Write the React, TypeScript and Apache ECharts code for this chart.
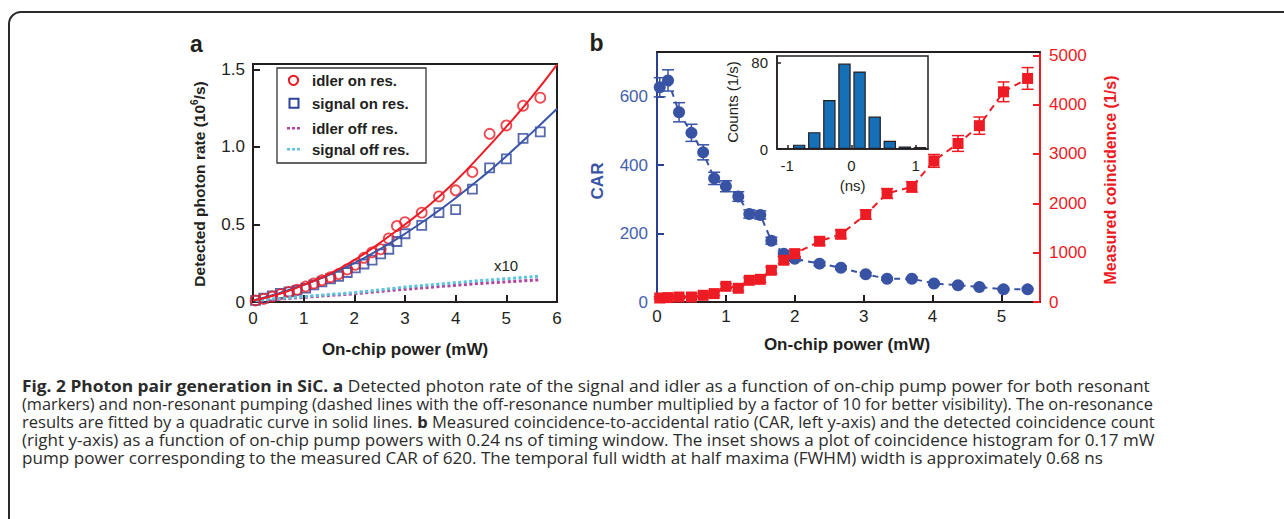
import React, { useEffect, useRef } from 'react';
import * as echarts from 'echarts';

// ---------- Panel a data ----------
const onResPower = [0.05, 0.21, 0.38, 0.54, 0.71, 0.87, 1.04, 1.2, 1.36, 1.53, 1.69, 1.86, 2.02, 2.19, 2.35, 2.52, 2.68, 2.84, 3.0, 3.33, 3.67, 4.0, 4.33, 4.67, 5.0, 5.33, 5.67];
const idlerOn = [0.01, 0.02, 0.035, 0.05, 0.065, 0.08, 0.1, 0.12, 0.14, 0.16, 0.18, 0.21, 0.24, 0.285, 0.32, 0.34, 0.41, 0.49, 0.515, 0.576, 0.681, 0.72, 0.838, 1.084, 1.138, 1.265, 1.317];
const signalOn = [0.01, 0.025, 0.04, 0.055, 0.065, 0.075, 0.09, 0.11, 0.13, 0.15, 0.165, 0.19, 0.22, 0.245, 0.27, 0.31, 0.34, 0.39, 0.44, 0.494, 0.576, 0.596, 0.727, 0.864, 0.922, 1.054, 1.097];
const fitPower = [0, 0.5, 1, 1.5, 2, 2.5, 3, 3.5, 4, 4.5, 5, 5.5, 6];
const idlerFit = [0.01, 0.05, 0.11, 0.18, 0.27, 0.38, 0.5, 0.63, 0.78, 0.95, 1.13, 1.32, 1.53];
const signalFit = [0.01, 0.055, 0.11, 0.175, 0.25, 0.34, 0.44, 0.55, 0.67, 0.8, 0.94, 1.09, 1.245];
const offPower = [0.05, 0.5, 1, 1.5, 2, 2.5, 3, 3.5, 4, 4.5, 5, 5.67];
const idlerOff = [0.008, 0.018, 0.03, 0.042, 0.053, 0.068, 0.082, 0.095, 0.108, 0.12, 0.13, 0.143];
const signalOff = [0.01, 0.022, 0.035, 0.048, 0.06, 0.078, 0.096, 0.11, 0.125, 0.138, 0.15, 0.167];
const legendNames = ['idler on res.', 'signal on res.', 'idler off res.', 'signal off res.'];
const aXTicks = [0, 1, 2, 3, 4, 5, 6];
const aYTicks = [0, 0.5, 1, 1.5];

// ---------- Panel b data ----------
const bPower = [0.04, 0.16, 0.32, 0.5, 0.67, 0.83, 1.0, 1.18, 1.34, 1.5, 1.66, 1.84, 2.0, 2.36, 2.67, 3.03, 3.34, 3.7, 4.02, 4.37, 4.68, 5.03, 5.38];
const car = [627, 647, 554, 494, 437, 361, 338, 308, 257, 254, 179, 141, 126, 112, 100, 81, 68, 68, 54, 49, 44, 37, 37];
const carErr = [28, 31, 28, 25, 22, 18, 16, 14, 12, 12, 10, 8, 7, 6, 5, 5, 4, 4, 4, 4, 3, 3, 3];
const coin = [81, 89, 101, 101, 136, 170, 318, 278, 440, 460, 643, 846, 980, 1231, 1373, 1773, 2199, 2333, 2860, 3213, 3574, 4260, 4531];
const coinErr = [25, 25, 30, 30, 35, 40, 50, 50, 55, 60, 65, 70, 75, 80, 85, 90, 100, 105, 130, 160, 175, 200, 220];
const bXTicks = [0, 1, 2, 3, 4, 5];
const carTicks = [0, 200, 400, 600];
const coinTicks = [0, 1000, 2000, 3000, 4000, 5000];

// ---------- Inset data ----------
const histTime = [-1.05, -0.815, -0.58, -0.345, -0.11, 0.125, 0.36, 0.595, 0.83, 1.065];
const histCounts = [0.8, 4, 15.6, 45.3, 79, 71.7, 30, 7.6, 2.4, 1.8];
const insetXTicks = [-1, 0, 1];
const insetYTicks = [0, 80];

// ---------- Caption ----------
const captionLines: { t: string; b?: boolean }[][] = [
  [{ t: 'Fig. 2 Photon pair generation in SiC. a', b: true }, { t: '\u00a0Detected photon rate of the signal and idler as a function of on-chip pump power for both resonant' }],
  [{ t: '(markers) and non-resonant pumping (dashed lines with the off-resonance number multiplied by a factor of 10 for better visibility). The on-resonance' }],
  [{ t: 'results are fitted by a quadratic curve in solid lines.\u00a0' }, { t: 'b', b: true }, { t: '\u00a0Measured coincidence-to-accidental ratio (CAR, left y-axis) and the detected coincidence count' }],
  [{ t: '(right y-axis) as a function of on-chip pump powers with 0.24 ns of timing window. The inset shows a plot of coincidence histogram for 0.17 mW' }],
  [{ t: 'pump power corresponding to the measured CAR of 620. The temporal full width at half maxima (FWHM) width is approximately 0.68 ns' }],
];

const RED = '#ed1c24';
const BLUE_A = '#2d449b';
const CAR_BLUE = '#3953a4';
const CAR_LABEL = '#4561ad';
const MAGENTA = '#b0479a';
const CYAN = '#5cc3dd';
const BAR = '#1670b8';
const INK = '#231f20';
const FONT = '"Liberation Sans", Arial, sans-serif';
const CAP_FONT = '"Open Sans", "Liberation Sans", sans-serif';

const zip = (xs: number[], ys: number[]) => xs.map((x, i) => [x, ys[i]]);

function valueAxis(o: any) {
  const color = o.color || INK;
  return {
    type: 'value',
    gridIndex: o.grid,
    position: o.position,
    min: o.min,
    max: o.max,
    axisLine: { show: true, onZero: false, lineStyle: { color, width: o.lw ?? 2 } },
    axisTick: o.ticks
      ? { show: true, inside: true, length: o.tickLen ?? 7, customValues: o.ticks, lineStyle: { color, width: o.lw ?? 2 } }
      : { show: false },
    axisLabel: o.ticks
      ? {
          show: true,
          customValues: o.ticks,
          color: o.labelColor || color,
          fontSize: o.fontSize ?? 17,
          fontFamily: FONT,
          margin: o.margin ?? 8,
          formatter: o.formatter || ((v: number) => String(v)),
        }
      : { show: false },
    splitLine: { show: false },
  };
}

function errorBars(xs: number[], ys: number[], errs: number[], color: string, yIdx: number) {
  return {
    type: 'custom',
    xAxisIndex: 1,
    yAxisIndex: yIdx,
    z: 1,
    data: xs.map((x, i) => [x, ys[i] - errs[i], ys[i] + errs[i]]),
    encode: { x: 0, y: [1, 2] },
    renderItem: (_p: any, api: any) => {
      const x = api.value(0);
      const p1 = api.coord([x, api.value(1)]);
      const p2 = api.coord([x, api.value(2)]);
      const hw = 6;
      const st = { stroke: color, lineWidth: 1.5 };
      return {
        type: 'group',
        children: [
          { type: 'line', shape: { x1: p1[0], y1: p1[1], x2: p2[0], y2: p2[1] }, style: st },
          { type: 'line', shape: { x1: p1[0] - hw, y1: p1[1], x2: p1[0] + hw, y2: p1[1] }, style: st },
          { type: 'line', shape: { x1: p2[0] - hw, y1: p2[1], x2: p2[0] + hw, y2: p2[1] }, style: st },
        ],
      };
    },
  };
}

function txt(x: number, y: number, text: string, o: any = {}) {
  return {
    type: 'text',
    x,
    y,
    rotation: o.rotation || 0,
    z: 100,
    style: {
      text,
      fill: o.color || INK,
      fontSize: o.size || 15,
      fontWeight: o.bold ? 'bold' : 'normal',
      fontFamily: o.family || FONT,
      align: o.align || 'center',
      verticalAlign: 'middle',
      textAlign: o.align || 'center',
      textVerticalAlign: 'middle',
      rich: o.rich,
    },
  };
}

export default function App() {
  const ref = useRef<HTMLDivElement>(null);
  useEffect(() => {
    if (!ref.current) return;
    const chart = echarts.init(ref.current, null, { renderer: 'svg' });

    // caption lines, stretched to the justified width of the reference
    const CAP_SIZE = 15.5;
    const capTargets = [1128, 1132, 1133, 1133, 1082];
    const capY = [385.5, 403.8, 422.2, 440.5, 458.8];
    const ctx = document.createElement('canvas').getContext('2d') as CanvasRenderingContext2D;
    const caption = captionLines.map((segs, i) => {
      let w = 0;
      segs.forEach((s) => {
        ctx.font = `${s.b ? 'bold ' : ''}${CAP_SIZE}px ${CAP_FONT}`;
        w += ctx.measureText(s.t).width;
      });
      const text = segs.map((s) => `{${s.b ? 'b' : 'n'}|${s.t}}`).join('');
      return {
        type: 'text',
        x: 22,
        y: capY[i],
        scaleX: w > 0 ? capTargets[i] / w : 1,
        z: 100,
        style: {
          text,
          fontSize: CAP_SIZE,
          fontFamily: CAP_FONT,
          fill: '#2b2b2b',
          align: 'left',
          verticalAlign: 'middle',
          textAlign: 'left',
          textVerticalAlign: 'middle',
          rich: {
            n: { fontSize: CAP_SIZE, fontFamily: CAP_FONT, fill: '#2b2b2b' },
            b: { fontSize: CAP_SIZE, fontFamily: CAP_FONT, fontWeight: 'bold', fill: '#2b2b2b' },
          },
        },
      };
    });

    const legendY = [80.3, 103.3, 128.3, 149.3];
    const legend: any[] = [
      { type: 'rect', z: 90, shape: { x: 277, y: 68, width: 149, height: 95 }, style: { fill: '#fff', stroke: '#333', lineWidth: 1.3 } },
      { type: 'circle', z: 100, shape: { cx: 293.5, cy: legendY[0], r: 4.6 }, style: { fill: 'none', stroke: RED, lineWidth: 2 } },
      { type: 'rect', z: 100, shape: { x: 289.5, y: legendY[1] - 4.5, width: 9, height: 9 }, style: { fill: 'none', stroke: BLUE_A, lineWidth: 2 } },
      { type: 'line', z: 100, shape: { x1: 287, y1: legendY[2], x2: 302, y2: legendY[2] }, style: { stroke: MAGENTA, lineWidth: 2.5, lineDash: [3, 2] } },
      { type: 'line', z: 100, shape: { x1: 287, y1: legendY[3], x2: 302, y2: legendY[3] }, style: { stroke: CYAN, lineWidth: 2.5, lineDash: [3, 2] } },
      ...legendNames.map((n, i) => txt(312, legendY[i], n, { bold: true, size: 15, align: 'left' })),
    ];

    const graphics: any[] = [
      { type: 'rect', z: 0, shape: { x: 9, y: 12, width: 1300, height: 540, r: 12 }, style: { fill: 'none', stroke: '#2a2a2a', lineWidth: 2 } },
      txt(196.5, 44, 'a', { bold: true, size: 23 }),
      txt(596.5, 43, 'b', { bold: true, size: 23 }),
      {
        type: 'text',
        x: 199,
        y: 184,
        rotation: Math.PI / 2,
        z: 100,
        style: {
          text: '{t|Detected photon rate (10}{s|6}{t|/s)}',
          align: 'center',
          verticalAlign: 'middle',
          textAlign: 'center',
          textVerticalAlign: 'middle',
          rich: {
            t: { fontSize: 15.5, fontWeight: 'bold', fontFamily: FONT, fill: INK, lineHeight: 20 },
            s: { fontSize: 10, fontWeight: 'bold', fontFamily: FONT, fill: INK, verticalAlign: 'top', lineHeight: 12 },
          },
        },
      },
      txt(405, 349, 'On-chip power (mW)', { bold: true, size: 17 }),
      txt(847, 344, 'On-chip power (mW)', { bold: true, size: 17 }),
      txt(597.5, 181, 'CAR', { bold: true, size: 17, color: CAR_BLUE, rotation: Math.PI / 2 }),
      txt(1110, 180, 'Measured coincidence (1/s)', { bold: true, size: 16, color: RED, rotation: Math.PI / 2 }),
      txt(732.5, 102, 'Counts (1/s)', { size: 15, rotation: Math.PI / 2 }),
      txt(852.7, 185, '(ns)', { size: 15 }),
      txt(506, 265, 'x10', { size: 15 }),
      ...legend,
      ...caption,
    ];

    const option: any = {
      animation: false,
      backgroundColor: '#fff',
      textStyle: { fontFamily: FONT },
      grid: [
        { left: 253, top: 64, width: 304, height: 238, show: true, borderColor: INK, borderWidth: 2, backgroundColor: 'transparent' },
        { left: 657, top: 52, width: 383, height: 250 },
        { left: 777, top: 56, width: 151, height: 93, show: true, borderColor: INK, borderWidth: 1.5, backgroundColor: '#fff' },
      ],
      xAxis: [
        valueAxis({ grid: 0, position: 'bottom', min: 0, max: 6, ticks: aXTicks, margin: 8 }),
        valueAxis({ grid: 1, position: 'bottom', min: 0, max: 5.56, ticks: bXTicks, margin: 6 }),
        valueAxis({ grid: 1, position: 'top', min: 0, max: 5.56 }),
        valueAxis({ grid: 2, position: 'bottom', min: -1.16, max: 1.19, ticks: insetXTicks, lw: 1.5, tickLen: 4, fontSize: 15, margin: 9 }),
      ],
      yAxis: [
        valueAxis({
          grid: 0,
          position: 'left',
          min: 0,
          max: 1.534,
          ticks: aYTicks,
          margin: 8,
          formatter: (v: number) => (v === 0 ? '0' : v.toFixed(1)),
        }),
        valueAxis({ grid: 1, position: 'left', min: 0, max: 730, ticks: carTicks, color: '#2b3f93', labelColor: CAR_LABEL, margin: 9 }),
        valueAxis({ grid: 1, position: 'right', min: 0, max: 5067, ticks: coinTicks, color: RED, margin: 9 }),
        valueAxis({ grid: 2, position: 'left', min: 0, max: 86, ticks: insetYTicks, lw: 1.5, tickLen: 4, fontSize: 15, margin: 9 }),
      ],
      series: [
        // panel a
        { type: 'line', xAxisIndex: 0, yAxisIndex: 0, data: zip(offPower, idlerOff), symbol: 'none', lineStyle: { color: MAGENTA, width: 3, type: [3, 2.5] } },
        { type: 'line', xAxisIndex: 0, yAxisIndex: 0, data: zip(offPower, signalOff), symbol: 'none', lineStyle: { color: CYAN, width: 3, type: [3, 2.5] } },
        { type: 'line', xAxisIndex: 0, yAxisIndex: 0, data: zip(fitPower, signalFit), symbol: 'none', smooth: true, lineStyle: { color: '#3a55a8', width: 2 } },
        { type: 'line', xAxisIndex: 0, yAxisIndex: 0, data: zip(fitPower, idlerFit), symbol: 'none', smooth: true, lineStyle: { color: RED, width: 2 } },
        {
          type: 'scatter', name: legendNames[1], xAxisIndex: 0, yAxisIndex: 0, data: zip(onResPower, signalOn), symbol: 'rect', symbolSize: 9,
          itemStyle: { color: 'rgba(0,0,0,0)', borderColor: BLUE_A, borderWidth: 1.8 },
        },
        {
          type: 'scatter', name: legendNames[0], xAxisIndex: 0, yAxisIndex: 0, data: zip(onResPower, idlerOn), symbol: 'circle', symbolSize: 10,
          itemStyle: { color: 'rgba(0,0,0,0)', borderColor: RED, borderWidth: 1.8 },
        },
        // panel b
        errorBars(bPower, car, carErr, CAR_BLUE, 1),
        errorBars(bPower, coin, coinErr, RED, 2),
        {
          type: 'line', name: 'CAR', xAxisIndex: 1, yAxisIndex: 1, data: zip(bPower, car), symbol: 'circle', symbolSize: 12, showSymbol: true,
          itemStyle: { color: CAR_BLUE }, lineStyle: { color: CAR_BLUE, width: 2, type: [6, 5] }, z: 3,
        },
        {
          type: 'line', name: 'Measured coincidence', xAxisIndex: 1, yAxisIndex: 2, data: zip(bPower, coin), symbol: 'rect', symbolSize: 11, showSymbol: true,
          itemStyle: { color: RED }, lineStyle: { color: RED, width: 2, type: [7, 5] }, z: 3,
        },
        // inset histogram
        {
          type: 'bar', name: 'Counts', xAxisIndex: 3, yAxisIndex: 3, data: zip(histTime, histCounts), barWidth: 12.4,
          itemStyle: { color: BAR, borderColor: INK, borderWidth: 1.2 }, z: 6,
        },
      ],
      graphic: { elements: graphics },
    };

    chart.setOption(option);
    return () => chart.dispose();
  }, []);

  return <div ref={ref} style={{ position: 'absolute', left: 0, top: 0, width: 1284, height: 519, background: '#fff' }} />;
}
